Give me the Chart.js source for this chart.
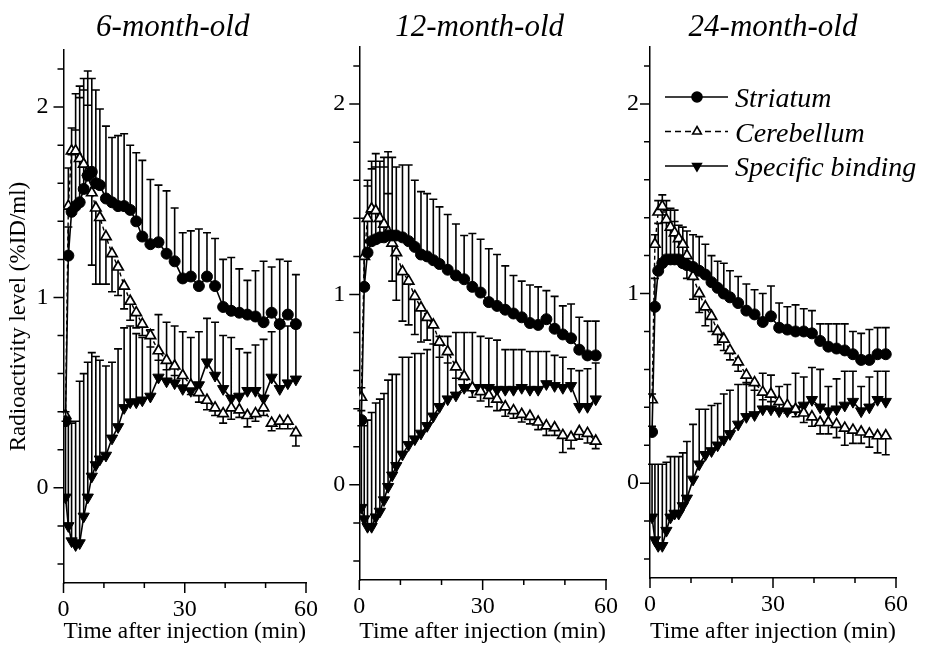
<!DOCTYPE html>
<html>
<head>
<meta charset="utf-8">
<script src="https://cdn.jsdelivr.net/npm/chart.js@4.4.1/dist/chart.umd.min.js"></script>
<style>
html, body { margin: 0; padding: 0; background: #fff; }
#wrap { position: relative; width: 940px; height: 646px; overflow: hidden; }
.panel { position: absolute; top: 0; height: 646px; }
</style>
</head>
<body>
<div id="wrap">
  <div class="panel" style="left:0px"><canvas id="c6" width="330" height="646"></canvas></div>
  <div class="panel" style="left:330px"><canvas id="c12" width="300" height="646"></canvas></div>
  <div class="panel" style="left:620px"><canvas id="c24" width="320" height="646"></canvas></div>
</div>
<script>
// sampling times (min)
const times = [0.5, 1.2, 2, 3, 4, 5, 6, 7, 8, 9, 10.5, 12, 13.5, 15, 16.5, 18, 19.5, 21.5, 23.5, 25.5, 27.5, 29.5, 31.5, 33.5, 35.5, 37.5, 39.5, 41.5, 43.5, 45.5, 47.5, 49.5, 51.5, 53.5, 55.5, 57.5]

const xTicks = [0, 10, 20, 30, 40, 50, 60]
const xTickLabels = [0, 30, 60]
const yTicks = [-0.4, -0.2, 0, 0.2, 0.4, 0.6, 0.8, 1, 1.2, 1.4, 1.6, 1.8, 2, 2.2]
const yTickLabels = [0, 1, 2]

const panelTitles = ['6-month-old', '12-month-old', '24-month-old']
const seriesNames = ['Striatum', 'Cerebellum', 'Specific binding']
const xTitle = 'Time after injection (min)'
const yTitle = 'Radioactivity level (%ID/ml)'

// 6-month-old
const striatum6 = [0.35, 1.22, 1.45, 1.48, 1.50, 1.57, 1.64, 1.66, 1.60, 1.59, 1.52, 1.50, 1.48, 1.48, 1.46, 1.40, 1.32, 1.28, 1.29, 1.23, 1.19, 1.10, 1.11, 1.06, 1.11, 1.06, 0.95, 0.93, 0.92, 0.91, 0.90, 0.87, 0.92, 0.86, 0.91, 0.86]
const striatum6Err = [0.05, 0.15, 0.30, 0.40, 0.55, 0.52, 0.55, 0.49, 0.49, 0.40, 0.38, 0.34, 0.37, 0.38, 0.34, 0.36, 0.40, 0.34, 0.30, 0.33, 0.28, 0.24, 0.24, 0.30, 0.23, 0.25, 0.25, 0.28, 0.23, 0.18, 0.24, 0.32, 0.24, 0.34, 0.28, 0.26]
const cerebellum6 = [0.38, 1.48, 1.77, 1.77, 1.73, 1.70, 1.66, 1.55, 1.47, 1.42, 1.32, 1.23, 1.16, 1.06, 0.98, 0.92, 0.86, 0.80, 0.72, 0.67, 0.64, 0.59, 0.54, 0.50, 0.46, 0.42, 0.39, 0.42, 0.41, 0.38, 0.39, 0.42, 0.34, 0.35, 0.35, 0.29]
const cerebellum6Err = [0, 0.2, 0.12, 0.3, 0.38, 0.45, 0.35, -0.38, -0.4, -0.35, -0.25, -0.2, -0.15, -0.12, -0.1, -0.08, -0.06, -0.06, -0.05, -0.05, -0.05, -0.05, -0.05, -0.05, -0.05, -0.04, -0.05, -0.06, -0.04, -0.06, -0.04, -0.04, -0.04, -0.04, -0.04, -0.07]
const specific6 = [-0.05, -0.2, -0.28, -0.30, -0.29, -0.15, -0.05, 0.06, 0.12, 0.15, 0.17, 0.26, 0.32, 0.42, 0.45, 0.45, 0.46, 0.48, 0.58, 0.56, 0.55, 0.52, 0.51, 0.54, 0.66, 0.59, 0.52, 0.47, 0.48, 0.51, 0.51, 0.47, 0.58, 0.52, 0.55, 0.57]
const specific6Err = [0.4, 0.55, 0.62, 0.65, 0.85, 0.75, 0.71, 0.65, 0.57, 0.52, 0.47, 0.40, 0.41, 0.42, 0.40, 0.36, 0.33, 0.35, 0.33, 0.31, 0.30, 0.30, 0.28, 0.28, 0.23, 0.28, 0.28, 0.32, 0.25, 0.20, 0.24, 0.31, 0.24, 0.36, 0.30, 0.27]

// 12-month-old
const striatum12 = [0.34, 1.04, 1.22, 1.28, 1.29, 1.30, 1.30, 1.31, 1.31, 1.31, 1.30, 1.28, 1.25, 1.21, 1.20, 1.18, 1.16, 1.13, 1.10, 1.08, 1.04, 1.01, 0.96, 0.94, 0.92, 0.90, 0.88, 0.85, 0.84, 0.87, 0.82, 0.79, 0.77, 0.71, 0.68, 0.68]
const striatum12Err = [0.05, 0.15, 0.35, 0.38, 0.38, 0.40, 0.42, 0.44, 0.41, 0.36, 0.38, 0.40, 0.35, 0.33, 0.33, 0.32, 0.30, 0.29, 0.27, 0.23, 0.28, 0.28, 0.28, 0.27, 0.23, 0.20, 0.19, 0.20, 0.20, 0.15, 0.17, 0.15, 0.18, 0.17, 0.18, 0.18]
const cerebellum12 = [0.46, 1.20, 1.40, 1.45, 1.44, 1.40, 1.37, 1.33, 1.27, 1.22, 1.12, 1.07, 0.99, 0.93, 0.88, 0.84, 0.75, 0.70, 0.62, 0.57, 0.51, 0.49, 0.47, 0.45, 0.41, 0.39, 0.37, 0.36, 0.33, 0.31, 0.30, 0.26, 0.25, 0.28, 0.27, 0.23]
const cerebellum12Err = [0.05, 0.2, 0.2, 0.25, 0.3, 0.3, 0.3, 0.2, -0.2, -0.25, -0.26, -0.23, -0.2, -0.18, -0.12, -0.1, -0.08, -0.06, -0.06, -0.06, -0.05, -0.05, -0.06, -0.06, -0.05, -0.04, -0.04, -0.04, -0.04, -0.05, -0.04, -0.09, -0.06, -0.04, -0.05, -0.04]
const specific12 = [-0.12, -0.18, -0.22, -0.22, -0.17, -0.14, -0.08, -0.01, 0.05, 0.10, 0.16, 0.21, 0.24, 0.27, 0.31, 0.36, 0.41, 0.45, 0.47, 0.51, 0.51, 0.51, 0.51, 0.50, 0.50, 0.50, 0.51, 0.50, 0.50, 0.53, 0.52, 0.51, 0.52, 0.41, 0.41, 0.45]
const specific12Err = [0.43, 0.49, 0.56, 0.6, 0.6, 0.59, 0.56, 0.56, 0.53, 0.48, 0.51, 0.46, 0.45, 0.42, 0.40, 0.38, 0.37, 0.33, 0.33, 0.29, 0.29, 0.27, 0.26, 0.26, 0.21, 0.21, 0.20, 0.20, 0.20, 0.17, 0.16, 0.16, 0.09, 0.19, 0.20, 0.19]

// 24-month-old
const striatum24 = [0.27, 0.93, 1.12, 1.16, 1.18, 1.18, 1.18, 1.18, 1.16, 1.15, 1.14, 1.12, 1.10, 1.06, 1.03, 1.00, 0.98, 0.95, 0.91, 0.89, 0.85, 0.88, 0.82, 0.81, 0.80, 0.80, 0.79, 0.75, 0.72, 0.71, 0.70, 0.68, 0.65, 0.65, 0.68, 0.68]
const striatum24Err = [0.03, 0.15, 0.25, 0.27, 0.26, 0.26, 0.2, 0.18, 0.19, 0.18, 0.17, 0.18, 0.16, 0.14, 0.14, 0.16, 0.14, 0.14, 0.14, 0.13, 0.15, 0.16, 0.13, 0.12, 0.14, 0.12, 0.12, 0.09, 0.12, 0.13, 0.14, 0.12, 0.14, 0.16, 0.14, 0.14]
const cerebellum24 = [0.44, 1.26, 1.43, 1.46, 1.39, 1.35, 1.32, 1.29, 1.26, 1.20, 1.09, 1.00, 0.93, 0.88, 0.80, 0.76, 0.70, 0.64, 0.57, 0.53, 0.48, 0.47, 0.43, 0.41, 0.39, 0.37, 0.35, 0.32, 0.32, 0.31, 0.29, 0.28, 0.27, 0.26, 0.25, 0.25]
const cerebellum24Err = [0.03, 0.05, 0.06, 0.06, 0.1, 0.1, 0.12, -0.1, -0.12, -0.12, -0.12, -0.1, -0.1, -0.08, -0.07, -0.06, -0.05, -0.05, -0.05, -0.04, -0.04, -0.04, -0.04, -0.04, -0.04, -0.05, -0.05, -0.06, -0.06, -0.07, -0.09, -0.07, -0.06, -0.07, -0.09, -0.1]
const specific24 = [-0.18, -0.30, -0.33, -0.33, -0.25, -0.18, -0.16, -0.16, -0.12, -0.08, 0.02, 0.10, 0.15, 0.17, 0.20, 0.23, 0.26, 0.31, 0.35, 0.36, 0.39, 0.39, 0.38, 0.38, 0.39, 0.41, 0.44, 0.40, 0.38, 0.39, 0.41, 0.43, 0.38, 0.40, 0.44, 0.43]
const specific24Err = [0.28, 0.4, 0.43, 0.43, 0.36, 0.32, 0.30, 0.30, 0.28, 0.30, 0.29, 0.29, 0.24, 0.24, 0.22, 0.24, 0.23, 0.21, 0.18, 0.17, 0.19, 0.18, 0.13, 0.14, 0.19, 0.15, 0.17, 0.20, 0.13, 0.16, 0.18, 0.16, 0.13, 0.16, 0.15, 0.16]

const H = 646
const SERIF = "'Liberation Serif', 'Times New Roman', serif"
Chart.defaults.font.family = SERIF
Chart.defaults.color = '#000'

// error bars (positive = up, negative = down), drawn under the markers
const errorBars = {
    id: 'errorBars',
    beforeDatasetsDraw(chart) {
        const {ctx, scales: {x, y}} = chart
        ctx.save()
        ctx.strokeStyle = '#000'
        ctx.lineWidth = 1.6
        ctx.beginPath()
        chart.data.datasets.forEach(ds => {
            if (!ds.errs) return
            ds.data.forEach((p, i) => {
                const e = ds.errs[i]
                if (!e) return
                const px = x.getPixelForValue(p.x)
                const y0 = y.getPixelForValue(p.y)
                const y1 = y.getPixelForValue(p.y + e)
                ctx.moveTo(px, y0)
                ctx.lineTo(px, y1)
                ctx.moveTo(px - 4, y1)
                ctx.lineTo(px + 4, y1)
            })
        })
        ctx.stroke()
        ctx.restore()
    }
}

// outward tick marks, longer at labelled values
const tickMarks = {
    id: 'tickMarks',
    afterDraw(chart) {
        const {ctx, scales: {x, y}, chartArea: a} = chart
        ctx.save()
        ctx.strokeStyle = '#000'
        ctx.lineWidth = 1.5
        ctx.beginPath()
        xTicks.forEach(v => {
            const px = x.getPixelForValue(v)
            const len = xTickLabels.includes(v) ? 10 : 5
            ctx.moveTo(px, a.bottom)
            ctx.lineTo(px, a.bottom + len)
        })
        yTicks.forEach(v => {
            const py = y.getPixelForValue(v)
            const len = yTickLabels.includes(v) ? 10 : 6
            ctx.moveTo(a.left, py)
            ctx.lineTo(a.left - len, py)
        })
        ctx.stroke()
        ctx.restore()
    }
}

const panelTitle = {
    id: 'panelTitle',
    afterDraw(chart, args, opts) {
        const {ctx, chartArea: a} = chart
        ctx.save()
        ctx.font = 'italic 31px ' + SERIF
        ctx.fillStyle = '#000'
        ctx.textAlign = 'center'
        ctx.textBaseline = 'alphabetic'
        ctx.fillText(opts.text, (a.left + a.right) / 2 + opts.dx, 36)
        ctx.restore()
    }
}

// legend with line + marker samples
const lineLegend = {
    id: 'lineLegend',
    afterDraw(chart, args, opts) {
        if (!opts.show) return
        const {ctx, chartArea: a} = chart
        chart.data.datasets.forEach((ds, i) => {
            const y = a.top + 50 + i * 34.5
            const x0 = a.left + 15, x1 = a.left + 78, xm = a.left + 47
            ctx.save()
            ctx.strokeStyle = '#000'
            ctx.lineWidth = 1.6
            ctx.setLineDash(ds.borderDash ? [6, 4] : [])
            ctx.beginPath()
            ctx.moveTo(x0, y)
            ctx.lineTo(x1, y)
            ctx.stroke()
            ctx.setLineDash([])
            ctx.fillStyle = ds.pointBackgroundColor
            ctx.lineWidth = 1.6
            Chart.helpers.drawPoint(ctx, {
                pointStyle: ds.pointStyle, rotation: ds.pointRotation || 0,
                radius: 5, borderWidth: 1.6
            }, xm, y)
            ctx.font = 'italic 28px ' + SERIF
            ctx.fillStyle = '#000'
            ctx.textAlign = 'left'
            ctx.textBaseline = 'alphabetic'
            ctx.fillText(ds.label, a.left + 85, y + 10)
            ctx.restore()
        })
    }
}

const toXY = vals => vals.map((v, i) => ({x: times[i], y: v}))

function makeDatasets(str, strErr, cb, cbErr, sb, sbErr) {
    return [
        {
            label: seriesNames[0], data: toXY(str), errs: strErr,
            borderColor: '#000', borderWidth: 1.6,
            pointStyle: 'circle', pointRadius: 5.5,
            pointBackgroundColor: '#000', pointBorderColor: '#000', pointBorderWidth: 1
        },
        {
            label: seriesNames[1], data: toXY(cb), errs: cbErr,
            borderColor: '#000', borderWidth: 1.4, borderDash: [4, 3],
            pointStyle: 'triangle', pointRadius: 6,
            pointBackgroundColor: '#fff', pointBorderColor: '#000', pointBorderWidth: 1.7
        },
        {
            label: seriesNames[2], data: toXY(sb), errs: sbErr,
            borderColor: '#000', borderWidth: 1.6,
            pointStyle: 'triangle', pointRotation: 180, pointRadius: 6.5,
            pointBackgroundColor: '#000', pointBorderColor: '#000', pointBorderWidth: 1
        }
    ]
}

const panels = [
    {id: 'c6', width: 330, area: {left: 63.5, right: 311, top: 50, bottom: 583}, titleDx: -12, yPad: 15, showYTitle: true, legend: false,
        datasets: makeDatasets(striatum6, striatum6Err, cerebellum6, cerebellum6Err, specific6, specific6Err)},
    {id: 'c12', width: 300, area: {left: 29.3, right: 276, top: 47, bottom: 580}, titleDx: -3, yPad: 14, showYTitle: false, legend: false,
        datasets: makeDatasets(striatum12, striatum12Err, cerebellum12, cerebellum12Err, specific12, specific12Err)},
    {id: 'c24', width: 320, area: {left: 30, right: 276, top: 47, bottom: 578}, titleDx: 0, yPad: 11, showYTitle: false, legend: true,
        datasets: makeDatasets(striatum24, striatum24Err, cerebellum24, cerebellum24Err, specific24, specific24Err)}
]

panels.forEach((p, k) => {
    new Chart(document.getElementById(p.id), {
        type: 'line',
        data: {datasets: p.datasets},
        options: {
            responsive: false,
            animation: false,
            layout: {padding: {top: p.area.top, right: p.width - p.area.right, left: 0, bottom: 0}},
            elements: {line: {tension: 0, fill: false}},
            plugins: {
                legend: {display: false},
                tooltip: {enabled: false},
                panelTitle: {text: panelTitles[k], dx: p.titleDx},
                lineLegend: {show: p.legend}
            },
            scales: {
                x: {
                    type: 'linear', min: 0, max: 60,
                    afterBuildTicks: s => { s.ticks = xTicks.map(v => ({value: v})) },
                    afterFit: s => { s.height = H - p.area.bottom },
                    grid: {display: false, drawTicks: false},
                    border: {display: true, color: '#000', width: 1.5},
                    ticks: {
                        padding: 12, color: '#000', font: {size: 24}, maxRotation: 0, autoSkip: false,
                        callback: v => xTickLabels.includes(v) ? String(v) : ''
                    },
                    title: {display: true, text: xTitle, color: '#000', font: {size: 24}, padding: {top: 0, bottom: 0}}
                },
                y: {
                    type: 'linear', min: -0.5, max: 2.3,
                    afterBuildTicks: s => { s.ticks = yTicks.map(v => ({value: v})) },
                    afterFit: s => { s.width = p.area.left },
                    grid: {display: false, drawTicks: false},
                    border: {display: true, color: '#000', width: 1.5},
                    ticks: {
                        padding: p.yPad, color: '#000', font: {size: 24}, autoSkip: false,
                        callback: v => yTickLabels.includes(v) ? String(v) : ''
                    },
                    title: {display: p.showYTitle, text: yTitle, color: '#000', font: {size: 23}, padding: {top: 5, bottom: 0}}
                }
            }
        },
        plugins: [errorBars, tickMarks, panelTitle, lineLegend]
    })
})
</script>
</body>
</html>
